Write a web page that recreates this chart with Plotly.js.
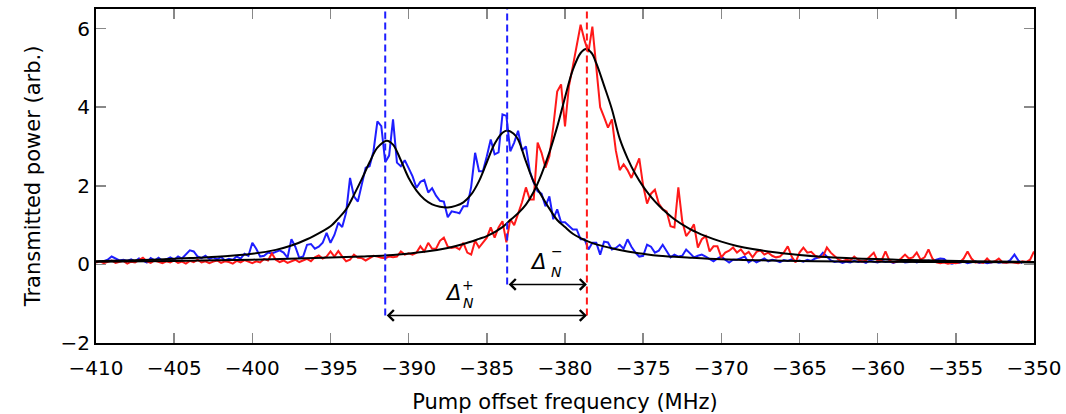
<!DOCTYPE html>
<html>
<head>
<meta charset="utf-8">
<script src="https://cdn.plot.ly/plotly-3.0.1.min.js"></script>
<style>html,body{margin:0;padding:0;background:#fff}#chart{width:1066px;height:414px}</style>
</head>
<body>
<div id="chart"></div>
<script>
// Measured transmission (blue: probe on two split modes, red: single mode), sampled every 0.25 MHz
const freqStep = 0.25;
const blueStart = -409.5;
const blueSignal = [
  0.08,0.12,0.2,0.14,0.1,0.12,0.09,0.13,0.08,0.15,
  0.11,0.05,0.16,0.1,0.17,0.09,0.13,0.18,0.12,0.2,
  0.15,0.25,0.36,0.33,0.2,0.16,0.22,0.14,0.18,0.13,
  0.19,0.1,0.14,0.12,0.2,0.15,0.27,0.22,
  0.55,0.4,0.2,0.22,0.3,0.28,0.33,0.36,0.3,0.17,
  0.64,0.45,0.17,0.2,0.5,0.52,0.4,0.45,0.55,0.8,
  0.55,0.75,1.06,0.95,1.32,2.2,1.73,1.6,2.03,2.46,
  2.5,2.88,3.64,3.52,2.6,2.77,3.69,2.59,2.5,2.65,
  2.45,2.24,1.95,2.1,2.15,1.83,1.94,1.75,1.62,1.6,
  1.2,1.35,1.33,1.3,1.48,1.48,1.98,2.84,2.37,2.37,
  2.75,3.18,2.8,2.85,3.82,3.78,2.88,3.1,3.4,2.9,
  3.0,2.37,2.08,1.86,1.8,1.48,1.73,1.15,1.4,1.07,
  1.07,0.97,0.89,0.89,0.64,0.64,0.38,0.55,0.55,0.25,
  0.58,0.56,0.38,0.42,0.5,0.4,0.64,0.45,0.3,0.2,
  0.22,0.5,0.45,0.3,0.35,0.5,0.35,0.18,0.25,0.2,
  0.22,0.38,0.28,0.18,0.22,0.25,0.2,0.13,0.08,0.15,
  0.2,0.12,0.05,0.12,0.12,0.16,0.2,0.05,0.12,0.05,
  0.1,0.15,0.08,0.12,0.1,0.06,0.11,0.09,0.13,0.08,
  0.1,0.07,0.12,0.09,0.15,0.18,0.3,0.2,0.1,0.06,
  0.08,0.04,0.07,0.05,0.09,0.06,0.08,0.04,0.1,0.07,
  0.05,0.09,0.06,0.08,0.04,0.07,0.1,0.05,0.06,0.09,
  0.05,0.08,0.06,0.1,0.07,0.12,0.15,0.14,0.05,0.02,
  0.05,0.04,0.07,0.03,0.05,0.08,0.04,0.06,0.03,0.05,
  0.07,0.04,0.06,0.05,0.12,0.25,0.1,0.03
];
const redStart = -410;
const redSignal = [
  0.05,0.08,0.03,0.07,0.1,0.04,0.06,0.09,0.02,0.07,
  0.05,0.12,0.17,0.08,0.04,0.1,0.06,0.03,0.08,0.05,
  0.1,0.04,0.07,0.02,0.09,0.06,0.12,0.05,0.08,0.03,
  0.07,0.1,0.04,0.08,0.06,0.02,0.09,0.05,0.11,0.06,
  0.03,0.08,0.05,0.14,0.1,0.28,0.12,0.06,0.1,0.04,
  0.08,0.12,0.06,0.1,0.14,0.08,0.18,0.23,0.15,0.2,
  0.33,0.2,0.34,0.2,0.08,0.12,0.25,0.17,0.16,0.1,
  0.16,0.22,0.2,0.17,0.16,0.2,0.18,0.2,0.33,0.25,
  0.28,0.25,0.3,0.46,0.33,0.55,0.4,0.4,0.6,0.68,
  0.45,0.42,0.44,0.38,0.55,0.3,0.25,0.6,0.43,0.55,
  0.68,0.94,0.68,0.94,1.1,0.56,1.15,1.0,1.27,1.58,
  1.96,1.65,1.65,3.1,2.84,2.46,2.75,3.5,4.4,4.58,
  3.51,4.53,5.04,5.6,6.1,5.7,5.4,6.05,5.0,4.0,
  3.75,3.48,3.69,2.9,2.4,2.55,2.4,2.2,2.45,2.7,
  2.0,1.55,1.8,1.9,1.55,1.4,1.35,0.97,0.94,1.96,
  1.1,0.72,0.85,1.02,0.43,0.64,0.72,0.33,0.46,0.46,
  0.18,0.3,0.35,0.43,0.3,0.38,0.25,0.32,0.18,0.32,
  0.36,0.25,0.3,0.22,0.18,0.2,0.3,0.46,0.2,0.05,
  0.3,0.43,0.3,0.32,0.22,0.18,0.2,0.43,0.3,0.2,
  0.12,0.08,0.12,0.1,0.2,0.12,0.07,0.1,0.2,0.3,
  0.08,0.1,0.33,0.1,0.05,0.08,0.15,0.25,0.15,0.18,
  0.3,0.12,0.18,0.38,0.15,0.05,0.03,0.05,0.02,0.04,
  0.03,0.05,0.15,0.33,0.15,0.05,0.06,0.04,0.15,0.05,
  0.08,0.15,0.05,0.04,0.06,0.05,0.03,0.08,0.06,0.12,
  0.33
];
// Fitted Lorentzian curves
const blueFitFreq = [-410,-407,-404,-402,-400,-398.5,-397.5,-396.5,-395.5,-395,-394.5,-394,-393.5,-393,-392.5,-392,-391.4,-391,-390.5,-390,-389.5,-389,-388.5,-388,-387.5,-387,-386.5,-386,-385.5,-385,-384.5,-384,-383.7,-383.3,-383,-382.5,-382,-381.5,-381,-380.5,-380,-379.5,-379,-378.5,-378,-377,-376,-375,-374,-372,-370,-367,-364,-360,-355,-350];
const blueFitPower = [0.08,0.11,0.16,0.2,0.27,0.37,0.48,0.64,0.85,0.97,1.17,1.4,1.77,2.17,2.6,2.97,3.15,3.05,2.65,2.2,1.88,1.66,1.53,1.47,1.45,1.49,1.58,1.78,2.12,2.6,3.07,3.35,3.41,3.33,3.18,2.62,2.1,1.75,1.42,1.13,0.95,0.78,0.67,0.58,0.51,0.41,0.33,0.27,0.22,0.17,0.13,0.1,0.08,0.07,0.06,0.05];
const redFitFreq = [-410,-405,-400,-396,-393,-391,-389,-387.5,-386.5,-385.5,-385,-384,-383.5,-383,-382.5,-382,-381.5,-381,-380.5,-380,-379.5,-379,-378.65,-378.3,-378,-377.5,-377,-376.5,-376,-375.5,-375,-374.5,-374,-373,-372,-371,-370,-369,-368,-367,-365,-362,-358,-354,-350];
const redFitPower = [0.07,0.09,0.12,0.16,0.2,0.24,0.32,0.42,0.52,0.65,0.72,0.95,1.13,1.3,1.52,1.85,2.3,2.85,3.5,4.25,4.95,5.38,5.48,5.38,5.12,4.55,3.95,3.2,2.7,2.3,1.98,1.72,1.5,1.15,0.9,0.72,0.58,0.47,0.39,0.33,0.24,0.16,0.11,0.08,0.06];
// Resonance markers and splittings
const blueCentres = [-391.5, -383.7];
const redCentre = -378.6;
const splitLevels = {plus: -1.3, minus: -0.51};
const xTicks = [-410,-405,-400,-395,-390,-385,-380,-375,-370,-365,-360,-355,-350];
const yTicks = [-2,0,2,4,6];

const grid = (start, n) => Array.from({length: n}, (_, i) => start + i * freqStep);
const BLUE = 'rgb(30,30,255)', RED = 'rgb(255,25,25)';
const FONT = 'DejaVu Sans, sans-serif';

const traces = [
  {x: grid(blueStart, blueSignal.length), y: blueSignal, mode: 'lines', line: {color: BLUE, width: 2}, hoverinfo: 'skip'},
  {x: grid(redStart, redSignal.length), y: redSignal, mode: 'lines', line: {color: RED, width: 2}, hoverinfo: 'skip'},
  {x: blueFitFreq, y: blueFitPower, mode: 'lines', line: {color: 'black', width: 2, shape: 'spline', smoothing: 1}},
  {x: redFitFreq, y: redFitPower, mode: 'lines', line: {color: 'black', width: 2, shape: 'spline', smoothing: 1}}
];

const dash = (x, y0, color) => ({type: 'line', xref: 'x', yref: 'y', x0: x, x1: x, y0: y0, y1: 6.5,
  line: {color: color, width: 2, dash: '7px,4px'}, layer: 'above'});
const shapes = [
  dash(blueCentres[0], splitLevels.plus, BLUE),
  dash(blueCentres[1], splitLevels.minus, BLUE),
  dash(redCentre, splitLevels.plus, RED)
];

const arrow = (x0, x1, y) => ({x: x1, y: y, ax: x0, ay: y, xref: 'x', yref: 'y', axref: 'x', ayref: 'y',
  text: '', showarrow: true, arrowhead: 4, startarrowhead: 4, arrowside: 'end+start', arrowsize: 1.4, startarrowsize: 1.4,
  arrowwidth: 1.5, arrowcolor: 'black', standoff: 0, startstandoff: 0});
const lab = (x, y, text, size) => ({x: x, y: y, xref: 'x', yref: 'y', text: text, showarrow: false,
  font: {family: FONT, size: size, color: 'black'}, xanchor: 'center', yanchor: 'middle'});

const annotations = [
  arrow(blueCentres[0], redCentre, splitLevels.plus),
  arrow(blueCentres[1], redCentre, splitLevels.minus),
  lab(-387.16, -0.73, '<i>Δ</i>', 21),
  lab(-386.2, -0.52, '+', 14),
  lab(-386.2, -0.97, '<i>N</i>', 14),
  lab(-381.73, 0.06, '<i>Δ</i>', 21),
  lab(-380.5, 0.33, '−', 14),
  lab(-380.55, -0.2, '<i>N</i>', 14)
];

const axisCommon = {showline: true, linecolor: 'black', linewidth: 2, mirror: 'ticks', ticks: 'inside',
  ticklen: 10, tickwidth: 1.5, tickcolor: '#888', showgrid: false, zeroline: false,
  tickfont: {family: FONT, size: 20, color: 'black'}};

const layout = {
  width: 1066, height: 414,
  margin: {l: 96, r: 32, t: 9, b: 71},
  paper_bgcolor: 'white', plot_bgcolor: 'white',
  showlegend: false,
  xaxis: Object.assign({}, axisCommon, {range: [-410, -350], tickvals: xTicks, ticklabelstandoff: 6,
    title: {text: 'Pump offset frequency (MHz)', font: {family: FONT, size: 21, color: 'black'}, standoff: 22}}),
  yaxis: Object.assign({}, axisCommon, {range: [-2, 6.5], tickvals: yTicks,
    title: {text: 'Transmitted power (arb.)', font: {family: FONT, size: 21, color: 'black'}, standoff: 14}}),
  shapes: shapes,
  annotations: annotations
};

Plotly.newPlot('chart', traces, layout, {staticPlot: true, displayModeBar: false});
</script>
</body>
</html>
